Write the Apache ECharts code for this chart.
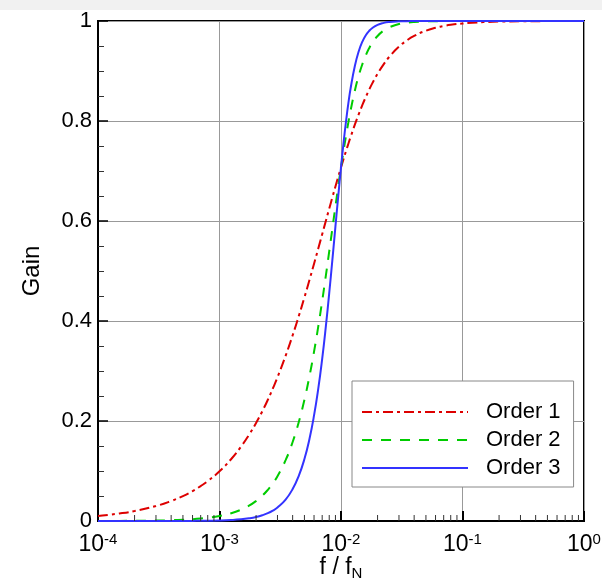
<!DOCTYPE html>
<html>
<head>
<meta charset="utf-8">
<script src="https://cdn.jsdelivr.net/npm/echarts@6/dist/echarts.min.js"></script>
<style>html,body{margin:0;padding:0;background:#fff}#c{width:602px;height:581px}</style>
</head>
<body>
<div id="c"></div>
<script>
// frequency ratio f / fN
const freq = [1e-4, 1.5e-4, 2e-4, 3e-4, 4e-4, 5e-4, 6e-4, 7e-4, 8e-4, 1e-3, 1.25e-3, 1.5e-3, 1.75e-3, 2e-3, 2.25e-3, 2.5e-3, 2.75e-3, 3e-3, 3.5e-3, 4e-3, 4.5e-3, 5e-3, 5.5e-3, 6e-3, 6.5e-3, 7e-3, 7.5e-3, 8e-3, 8.5e-3, 9e-3, 9.5e-3, 0.01, 0.0105, 0.011, 0.0115, 0.012, 0.013, 0.014, 0.015, 0.016, 0.017, 0.018, 0.02, 0.0225, 0.025, 0.03, 0.035, 0.04, 0.05, 0.06, 0.07, 0.08, 0.1, 0.12, 0.15, 0.2, 0.3, 0.5, 1];
const order1 = [0.0100, 0.0150, 0.0200, 0.0300, 0.0400, 0.0499, 0.0599, 0.0698, 0.0797, 0.0995, 0.1240, 0.1483, 0.1724, 0.1961, 0.2195, 0.2425, 0.2652, 0.2873, 0.3304, 0.3714, 0.4104, 0.4472, 0.4819, 0.5145, 0.5450, 0.5735, 0.6000, 0.6247, 0.6477, 0.6690, 0.6888, 0.7071, 0.7241, 0.7399, 0.7546, 0.7682, 0.7926, 0.8137, 0.8321, 0.8480, 0.8619, 0.8742, 0.8944, 0.9138, 0.9285, 0.9487, 0.9615, 0.9701, 0.9806, 0.9864, 0.9899, 0.9923, 0.9950, 0.9965, 0.9978, 0.9988, 0.9994, 0.9998, 1.0000];
const order2 = [0.0001, 0.0002, 0.0004, 0.0009, 0.0016, 0.0025, 0.0036, 0.0049, 0.0064, 0.0100, 0.0156, 0.0225, 0.0306, 0.0400, 0.0506, 0.0624, 0.0754, 0.0896, 0.1216, 0.1580, 0.1985, 0.2425, 0.2895, 0.3387, 0.3892, 0.4400, 0.4903, 0.5391, 0.5856, 0.6294, 0.6700, 0.7071, 0.7407, 0.7708, 0.7976, 0.8214, 0.8606, 0.8908, 0.9138, 0.9314, 0.9450, 0.9555, 0.9701, 0.9811, 0.9875, 0.9939, 0.9967, 0.9981, 0.9992, 0.9996, 0.9998, 0.9999, 1.0000, 1.0000, 1.0000, 1.0000, 1.0000, 1.0000, 1.0000];
const order3 = [0.000001, 0.000003, 0.000008, 0.000027, 0.000064, 0.000125, 0.000216, 0.000343, 0.000512, 0.0010, 0.0020, 0.0034, 0.0054, 0.0080, 0.0114, 0.0156, 0.0208, 0.0270, 0.0428, 0.0639, 0.0908, 0.1240, 0.1641, 0.2111, 0.2648, 0.3244, 0.3887, 0.4557, 0.5233, 0.5891, 0.6509, 0.7071, 0.7568, 0.7995, 0.8356, 0.8655, 0.9101, 0.9396, 0.9588, 0.9715, 0.9799, 0.9856, 0.9923, 0.9962, 0.9980, 0.9993, 0.9997, 0.9999, 1.0000, 1.0000, 1.0000, 1.0000, 1.0000, 1.0000, 1.0000, 1.0000, 1.0000, 1.0000, 1.0000];
const seriesNames = ['Order 1', 'Order 2', 'Order 3'];
const xTickLabels = {1e-4: '-4', 1e-3: '-3', 1e-2: '-2', 1e-1: '-1', 1: '0'};
const decades = [1e-4, 1e-3, 1e-2, 1e-1];
const minorMult = [2, 3, 4, 5, 6, 7, 8, 9];

const minorTicks = [];
decades.forEach(d => minorMult.forEach(m => minorTicks.push([m * d, 0])));

const FONT = '"Liberation Sans", Arial, Helvetica, sans-serif';
const chart = echarts.init(document.getElementById('c'));
const zip = ys => freq.map((f, i) => [f, ys[i]]);

chart.setOption({
  animation: false,
  backgroundColor: '#fff',
  textStyle: {fontFamily: FONT},
  graphic: [{type: 'rect', left: 0, top: 0, shape: {width: 602, height: 10}, style: {fill: '#f1f1f1'}, z: -10}],
  grid: {left: 98, right: 18, top: 21, bottom: 60, outerBoundsMode: 'none', containLabel: false,
    show: true, borderColor: '#000', borderWidth: 2, backgroundColor: 'transparent'},
  legend: {
    orient: 'vertical', left: 352, top: 381,
    data: seriesNames,
    itemWidth: 106, itemHeight: 14, itemGap: 6,
    padding: [20, 13, 8, 9],
    itemStyle: {opacity: 0},
    backgroundColor: '#fff', borderColor: '#888', borderWidth: 1, borderRadius: 0,
    textStyle: {fontFamily: FONT, fontSize: 22, color: '#000', padding: [0, 0, 0, 13]},
    z: 10
  },
  xAxis: {
    type: 'log', logBase: 10, min: 1e-4, max: 1,
    name: 'f / f{sub|N}', nameLocation: 'middle', nameGap: 33, nameMoveOverlap: false,
    nameTextStyle: {fontFamily: FONT, fontSize: 23, color: '#000',
      rich: {sub: {fontFamily: FONT, fontSize: 15, color: '#000', verticalAlign: 'bottom', padding: [12, 0, 0, 0]}}},
    axisLine: {lineStyle: {color: '#000', width: 2}},
    axisTick: {inside: true, length: 10, lineStyle: {color: '#000', width: 2}},
    splitLine: {show: true, lineStyle: {color: '#999', width: 1}},
    axisLabel: {
      margin: 11, color: '#000', fontSize: 23, fontFamily: FONT,
      formatter: v => '10{sup|' + (xTickLabels[v] !== undefined ? xTickLabels[v] : Math.round(Math.log10(v))) + '}',
      rich: {sup: {fontFamily: FONT, fontSize: 15, color: '#000', verticalAlign: 'top', padding: [0, 0, 10, 0]}}
    }
  },
  yAxis: {
    type: 'value', min: 0, max: 1, interval: 0.2,
    name: 'Gain', nameLocation: 'middle', nameGap: 54, nameRotate: 90, nameMoveOverlap: false,
    nameTextStyle: {fontFamily: FONT, fontSize: 24, color: '#000'},
    axisLine: {lineStyle: {color: '#000', width: 2}},
    axisTick: {inside: true, length: 10, lineStyle: {color: '#000', width: 1.5}},
    minorTick: {show: true, splitNumber: 4, length: 6, lineStyle: {color: '#333', width: 1}},
    splitLine: {show: true, lineStyle: {color: '#999', width: 1}},
    axisLabel: {margin: 6, color: '#000', fontSize: 22, fontFamily: FONT}
  },
  series: [
    {name: 'Order 1', type: 'line', data: zip(order1), showSymbol: false, symbol: 'none', smooth: true,
      lineStyle: {color: '#dd0000', width: 2, type: [10, 4, 3, 4]}, itemStyle: {color: '#dd0000'}, z: 3},
    {name: 'Order 2', type: 'line', data: zip(order2), showSymbol: false, symbol: 'none', smooth: true,
      lineStyle: {color: '#00cc00', width: 2, type: [10, 9]}, itemStyle: {color: '#00cc00'}, z: 3},
    {name: 'Order 3', type: 'line', data: zip(order3), showSymbol: false, symbol: 'none', smooth: true,
      lineStyle: {color: '#3333ff', width: 2}, itemStyle: {color: '#3333ff'}, z: 3},
    {name: 'minor', type: 'custom', data: minorTicks, silent: true, z: 4,
      renderItem: (params, api) => {
        const p = api.coord([api.value(0), 0]);
        return {type: 'line', shape: {x1: p[0], y1: p[1], x2: p[0], y2: p[1] - 6}, style: {stroke: '#333', lineWidth: 1}};
      }}
  ]
});
</script>
</body>
</html>
